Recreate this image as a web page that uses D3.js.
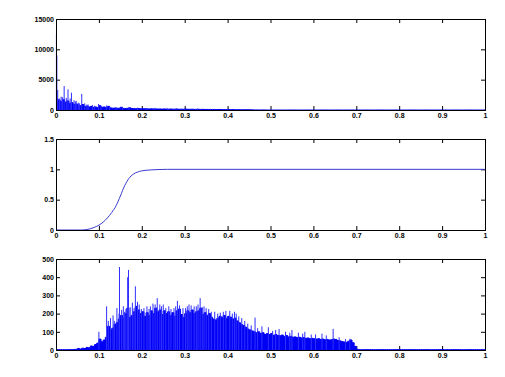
<!DOCTYPE html>
<html>
<head>
<meta charset="utf-8">
<script src="https://cdn.jsdelivr.net/npm/d3@7"></script>
<style>
  body { margin: 0; background: #fff; }
  svg { display: block; }
  .tick text { font-family: "Liberation Sans", Arial, sans-serif; font-size: 7px; font-weight: bold; fill: #000; opacity: 0.99; }
</style>
</head>
<body>
<div id="chart"></div>
<script>
// x tick labels shared by all three panels
let xTicks = [0, 0.1, 0.2, 0.3, 0.4, 0.5, 0.6, 0.7, 0.8, 0.9, 1];
let binStep = 0.005;

// panel 1: raw spectrum (body sampled every 0.005, spikes on top)
let topTicks = [0, 5000, 10000, 15000];
let topBody = [
  1800, 1600, 1400, 1700, 1300, 1500, 1100, 1200, 900, 1000,
  800, 700, 900, 600, 650, 500, 600, 450, 500, 400,
  700, 450, 500, 380, 600, 350, 300, 320, 280, 300,
  450, 260, 250, 280, 350, 240, 230, 220, 250, 200,
  210, 200, 190, 180, 200, 170, 180, 160, 170, 150,
  180, 150, 140, 160, 140, 130, 150, 130, 140, 120,
  150, 120, 110, 130, 110, 100, 120, 100, 110, 90,
  100, 90, 80, 100, 80, 70, 90, 70, 80, 60,
  80, 60, 70, 50, 60, 60, 50, 40, 50, 40,
  30, 30, 20, 20, 10, 10, 10, 5, 5, 0,
  0, 0, 0, 0, 0, 0, 0, 0, 0, 0,
  0, 0, 0, 0, 0, 0, 0, 0, 0, 0,
  0, 0, 0, 0, 0, 0, 0, 0, 0, 0,
  0, 0, 0, 0, 0, 0, 0, 0, 0, 0,
  0, 0, 0, 0, 0, 0, 0, 0, 0, 0,
  0, 0, 0, 0, 0, 0, 0, 0, 0, 0,
  0, 0, 0, 0, 0, 0, 0, 0, 0, 0,
  0, 0, 0, 0, 0, 0, 0, 0, 0, 0,
  0, 0, 0, 0, 0, 0, 0, 0, 0, 0,
  0, 0, 0, 0, 0, 0, 0, 0, 0, 0,
  0
];
let topSpikesX = [0.001, 0.002, 0.004, 0.008, 0.012, 0.015, 0.019, 0.024, 0.028, 0.033, 0.036, 0.042, 0.045, 0.047, 0.052, 0.055, 0.060, 0.067, 0.072, 0.075, 0.085, 0.090, 0.099, 0.105, 0.118, 0.125, 0.14, 0.155, 0.17, 0.19, 0.21, 0.23, 0.26, 0.28, 0.30, 0.33, 0.36, 0.40, 0.42, 0.44];
let topSpikesV = [12500, 9000, 3300, 1900, 2200, 2100, 3950, 2000, 3400, 1900, 2850, 1600, 1400, 1500, 1200, 1100, 2650, 1100, 900, 900, 800, 700, 1000, 650, 750, 550, 500, 450, 500, 380, 330, 350, 280, 300, 230, 250, 200, 200, 150, 150];

// panel 2: filter response
let midTicks = [0, 0.5, 1, 1.5];
let filterX = [0, 0.06, 0.07, 0.08, 0.09, 0.10, 0.11, 0.12, 0.13, 0.14, 0.15, 0.16, 0.17, 0.18, 0.19, 0.20, 0.22, 0.24, 0.26, 1.0];
let filterY = [0, 0, 0.005, 0.02, 0.045, 0.08, 0.13, 0.2, 0.29, 0.4, 0.56, 0.73, 0.85, 0.92, 0.955, 0.975, 0.99, 0.997, 1, 1];

// panel 3: filtered spectrum
let botTicks = [0, 100, 200, 300, 400, 500];
let botBody = [
  2, 2, 2, 2, 2, 2, 2, 2, 3, 4,
  8, 5, 10, 8, 14, 12, 22, 20, 30, 38,
  60, 45, 55, 70, 130, 110, 120, 140, 150, 170,
  190, 175, 200, 230, 180, 190, 210, 240, 220, 200,
  210, 185, 205, 190, 215, 200, 230, 210, 220, 195,
  215, 200, 210, 190, 205, 185, 215, 225, 195, 180,
  200, 215, 205, 220, 200, 210, 215, 230, 195, 205,
  190, 200, 180, 170, 165, 175, 185, 180, 190, 175,
  185, 180, 170, 175, 160, 150, 140, 135, 125, 115,
  110, 105, 100, 95, 100, 90, 95, 85, 90, 85,
  90, 80, 85, 80, 78, 82, 75, 80, 72, 75,
  70, 72, 68, 70, 66, 68, 64, 66, 62, 64,
  62, 60, 62, 58, 60, 56, 58, 55, 56, 60,
  58, 52, 50, 46, 44, 42, 48, 55, 40, 20,
  4, 2, 2, 2, 2, 2, 2, 2, 2, 2,
  2, 2, 2, 2, 2, 2, 2, 2, 2, 2,
  2, 2, 2, 2, 2, 2, 2, 2, 2, 2,
  2, 2, 2, 2, 2, 2, 2, 2, 2, 2,
  2, 2, 2, 2, 2, 2, 2, 2, 2, 2,
  2, 2, 2, 2, 2, 2, 2, 2, 2, 2,
  2
];
let botSpikesX = [
  0.100, 0.118, 0.122, 0.127, 0.133, 0.136, 0.142, 0.147, 0.148, 0.153,
  0.157, 0.160, 0.163, 0.167, 0.169, 0.173, 0.178, 0.182, 0.185, 0.190,
  0.194, 0.199, 0.205, 0.212, 0.217, 0.220, 0.226, 0.231, 0.236, 0.242,
  0.246, 0.250, 0.256, 0.263, 0.268, 0.275, 0.279, 0.283, 0.288, 0.296,
  0.302, 0.306, 0.310, 0.315, 0.322, 0.327, 0.331, 0.336, 0.341, 0.345,
  0.350, 0.356, 0.362, 0.370, 0.377, 0.383, 0.390, 0.396, 0.405, 0.411,
  0.416, 0.420, 0.426, 0.433, 0.440, 0.447, 0.455, 0.464, 0.470, 0.480,
  0.495, 0.505, 0.512, 0.520, 0.535, 0.545, 0.550, 0.565, 0.575, 0.580,
  0.595, 0.605, 0.620, 0.630, 0.646, 0.660, 0.675, 0.685
];
let botSpikesV = [
  100, 240, 160, 175, 190, 160, 230, 200, 456, 220,
  240, 210, 225, 400, 440, 235, 260, 230, 350, 265,
  250, 225, 230, 240, 225, 240, 255, 250, 285, 250,
  240, 250, 230, 240, 225, 230, 240, 270, 245, 230,
  230, 240, 250, 245, 240, 240, 250, 285, 235, 240,
  230, 225, 210, 210, 200, 205, 210, 215, 215, 200,
  210, 200, 185, 175, 160, 145, 135, 178, 120, 130,
  125, 105, 110, 115, 100, 95, 110, 95, 90, 100,
  85, 85, 90, 80, 116, 70, 60, 62
];

let W = 505, H = 377;
let left = 56, right = 485;
let panels = [
  { top: 19, bottom: 110, ticks: topTicks, fmt: d3.format('d') },
  { top: 139, bottom: 230, ticks: midTicks, fmt: d => String(d) },
  { top: 259, bottom: 350, ticks: botTicks, fmt: d3.format('d') }
];

let svg = d3.select('#chart').append('svg')
  .attr('width', W)
  .attr('height', H);

svg.append('rect').attr('width', W).attr('height', H).attr('fill', '#fff');

let x = d3.scaleLinear().domain([0, 1]).range([left, right]);

function drawAxes(p) {
  let y = d3.scaleLinear()
    .domain([0, p.ticks[p.ticks.length - 1]])
    .range([p.bottom, p.top]);

  let g = svg.append('g');

  g.append('g')
    .attr('transform', `translate(0, ${p.bottom})`)
    .call(d3.axisBottom(x).tickValues(xTicks).tickSize(-4).tickPadding(3).tickFormat(d => String(d)));

  g.append('g')
    .attr('transform', `translate(0, ${p.top})`)
    .call(d3.axisTop(x).tickValues(xTicks).tickSize(-4).tickFormat(''));

  g.append('g')
    .attr('transform', `translate(${left}, 0)`)
    .call(d3.axisLeft(y).tickValues(p.ticks).tickSize(-4).tickPadding(2).tickFormat(p.fmt));

  g.append('g')
    .attr('transform', `translate(${right}, 0)`)
    .call(d3.axisRight(y).tickValues(p.ticks).tickSize(-4).tickFormat(''));

  g.selectAll('.domain').remove();
  g.selectAll('.tick line').attr('stroke', '#000');

  p.y = y;
  return y;
}

function drawBox(p) {
  svg.append('rect')
    .attr('x', left + 0.5)
    .attr('y', p.top + 0.5)
    .attr('width', right - left)
    .attr('height', p.bottom - p.top)
    .attr('fill', 'none')
    .attr('stroke', '#000')
    .attr('stroke-width', 1);
}

function drawSpectrum(p, body, spikesX, spikesV) {
  let bins = body.map((v, i) => ({ x: i * binStep, v: v }));

  let area = d3.area()
    .curve(d3.curveStepAfter)
    .x(d => x(d.x))
    .y0(p.y(0))
    .y1(d => p.y(d.v));

  let line = d3.line()
    .curve(d3.curveStepAfter)
    .x(d => x(d.x))
    .y(d => p.y(d.v));

  svg.append('path')
    .datum(bins)
    .attr('d', area)
    .attr('fill', '#0000f4');

  svg.append('path')
    .datum(bins)
    .attr('d', line)
    .attr('fill', 'none')
    .attr('stroke', '#0000f4')
    .attr('stroke-width', 1);

  let spikes = spikesX.map((sx, i) => ({ x: sx, v: spikesV[i] }));
  svg.append('g').selectAll('line')
    .data(spikes)
    .enter()
    .append('line')
    .attr('x1', d => x(d.x))
    .attr('x2', d => x(d.x))
    .attr('y1', p.y(0))
    .attr('y2', d => p.y(d.v))
    .attr('stroke', '#3030ff')
    .attr('stroke-width', 1);
}

panels.forEach(drawAxes);

drawSpectrum(panels[0], topBody, topSpikesX, topSpikesV);

let filterPts = filterX.map((fx, i) => ({ x: fx, v: filterY[i] }));
svg.append('path')
  .datum(filterPts)
  .attr('d', d3.line().curve(d3.curveMonotoneX).x(d => x(d.x)).y(d => panels[1].y(d.v)))
  .attr('fill', 'none')
  .attr('stroke', '#3a3ad0')
  .attr('stroke-width', 1);

drawSpectrum(panels[2], botBody, botSpikesX, botSpikesV);

panels.forEach(drawBox);
</script>
</body>
</html>
